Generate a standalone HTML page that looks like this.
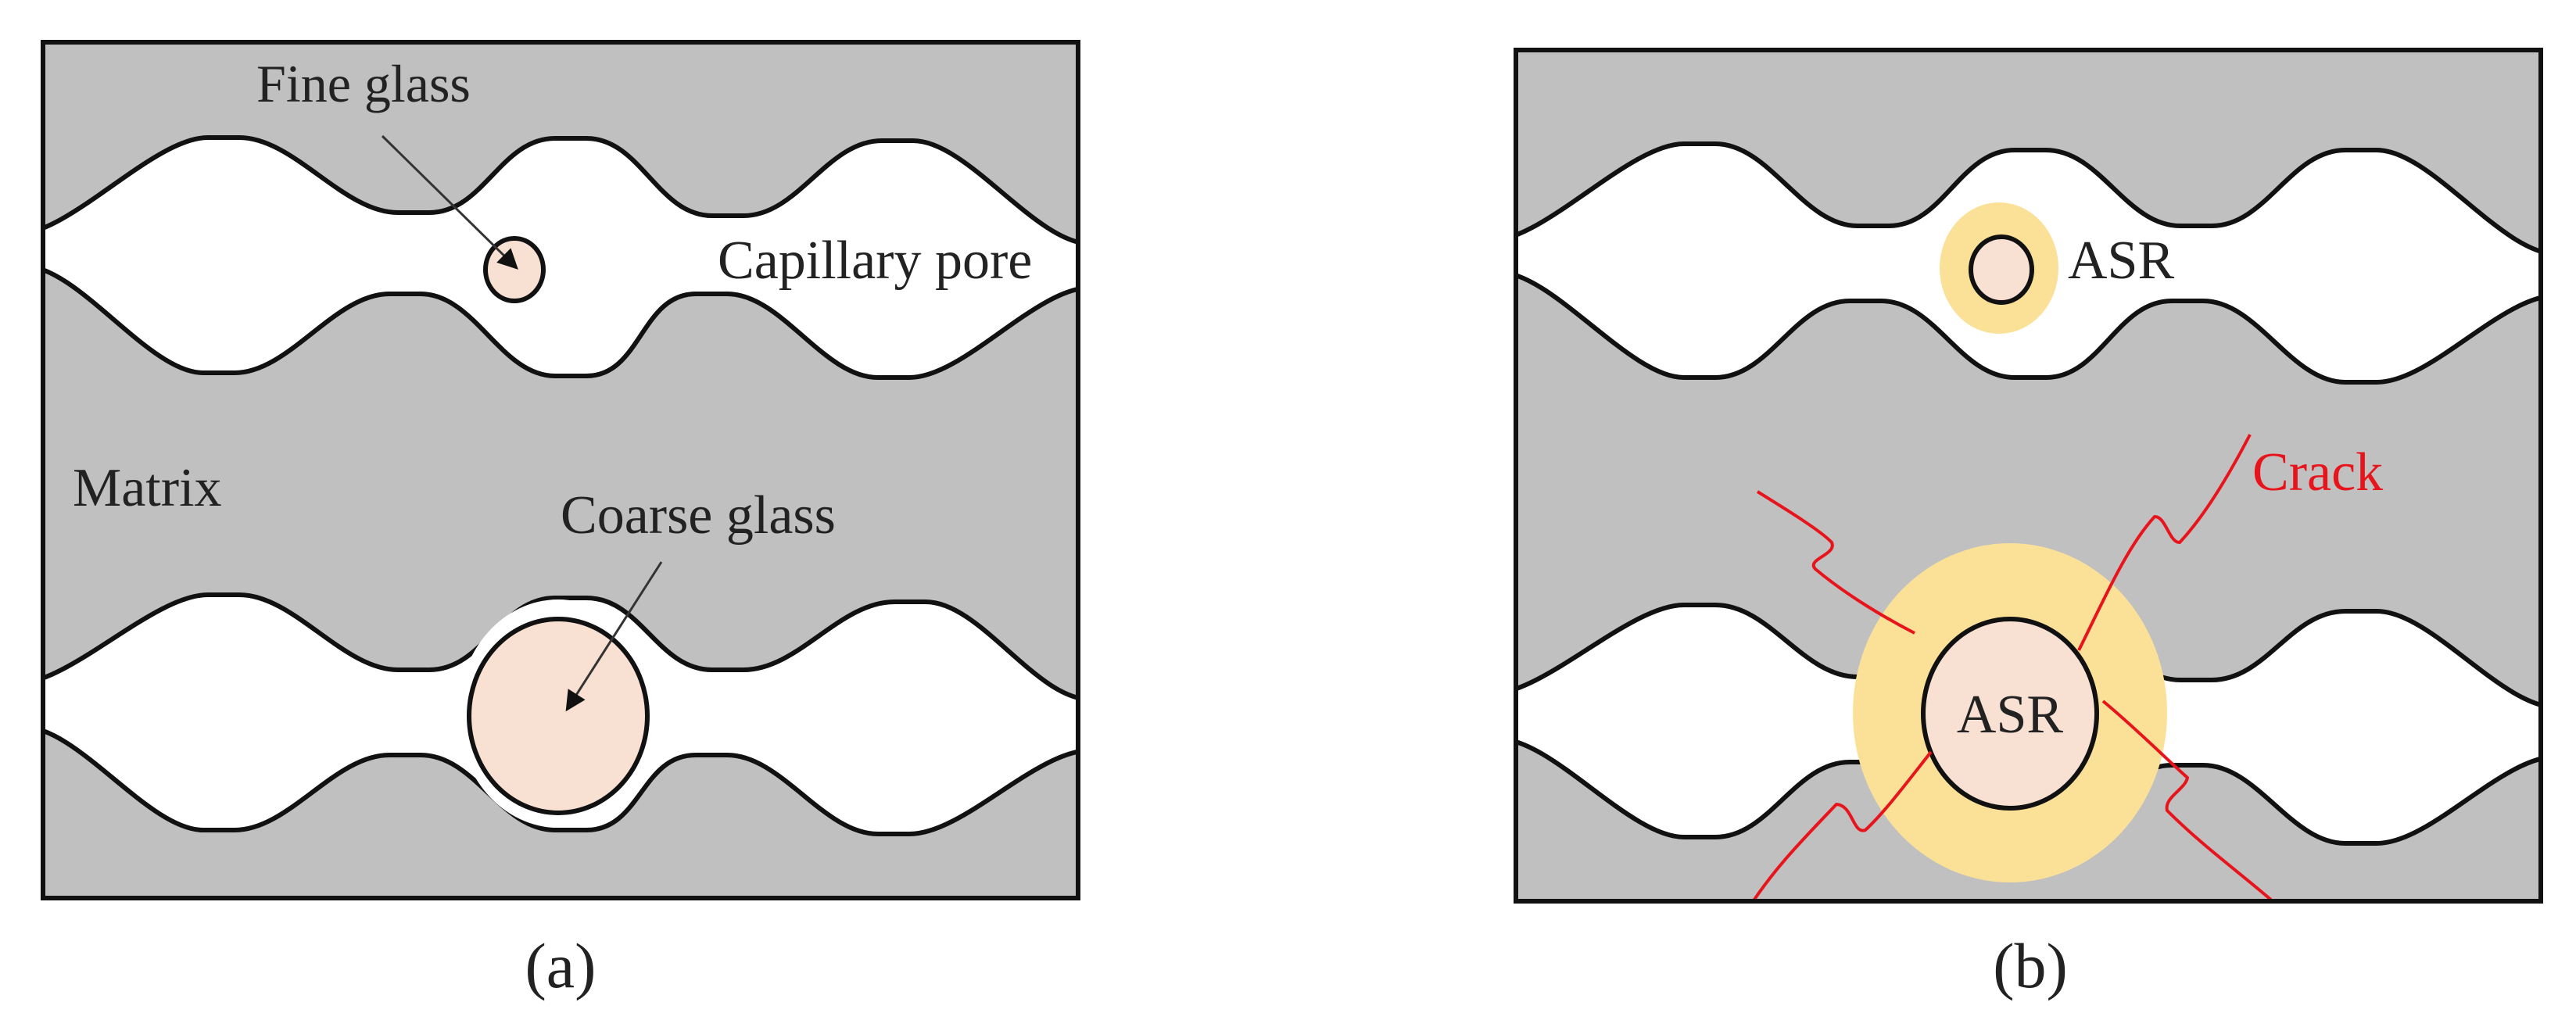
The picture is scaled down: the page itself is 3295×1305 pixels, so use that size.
<!DOCTYPE html>
<html><head><meta charset="utf-8"><style>
html,body{margin:0;padding:0;background:#fff;}
svg{display:block;}
text{font-family:"Liberation Serif",serif;fill:#222;}
</style></head><body>
<svg width="3295" height="1305" viewBox="0 0 3295 1305" xmlns="http://www.w3.org/2000/svg">
<defs>
<clipPath id="ca"><rect x="55" y="54" width="1324" height="1095"/></clipPath>
<clipPath id="cb"><rect x="1939" y="64" width="1311" height="1089"/></clipPath>
<marker id="ar" viewBox="0 0 10 10" refX="9" refY="5" markerWidth="30" markerHeight="26" orient="auto" markerUnits="userSpaceOnUse">
<path d="M0 0 L10 5 L0 10 Z" fill="#111"/></marker>
</defs>
<!-- Panel a -->
<rect x="55" y="54" width="1324" height="1095" fill="#c0c0c0"/>
<g clip-path="url(#ca)" fill="#fff" stroke="#111" stroke-width="6">
<path d="M20 300 C90 300 196 176 266 176 L306 176 C376 176 439 272 509 272 L549 272 C619 272 640 177 710 177 L750 177 C820 177 841 276 911 276 L951 276 C1021 276 1058 180 1128 180 L1168 180 C1238 180 1325 312 1395 312 L1395 368 C1325 368 1233 483 1163 483 L1123 483 C1053 483 1000 376 930 376 L890 376 C820 376 820 481 750 481 L710 481 C640 481 608 376 538 376 L498 376 C428 376 370 477 300 477 L260 477 C190 477 100 340 30 340 Z"/>
<path d="M20 875 C90 875 196 761 266 761 L306 761 C376 761 439 857 509 857 L549 857 C619 857 640 765 710 765 L750 765 C820 765 841 857 911 857 L951 857 C1021 857 1074 770 1144 770 L1184 770 C1254 770 1325 895 1395 895 L1395 960 C1325 960 1233 1067 1163 1067 L1123 1067 C1053 1067 1000 966 930 966 L890 966 C820 966 820 1062 750 1062 L710 1062 C640 1062 608 966 538 966 L498 966 C428 966 370 1062 300 1062 L260 1062 C190 1062 100 930 30 930 Z"/>
</g>
<ellipse cx="714" cy="913" rx="128" ry="146" fill="#fff"/>
<ellipse cx="714" cy="916" rx="114" ry="124" fill="#f8e0d2" stroke="#111" stroke-width="6"/>
<ellipse cx="658" cy="345" rx="37" ry="40" fill="#f8e0d2" stroke="#111" stroke-width="6"/>
<line x1="489" y1="174" x2="661" y2="343" stroke="#333" stroke-width="3" marker-end="url(#ar)"/>
<line x1="846" y1="719" x2="725" y2="908" stroke="#333" stroke-width="3" marker-end="url(#ar)"/>
<rect x="55" y="54" width="1324" height="1095" fill="none" stroke="#111" stroke-width="6"/>
<text x="328" y="130" font-size="68">Fine glass</text>
<text x="918" y="356" font-size="70">Capillary pore</text>
<text x="93" y="647" font-size="70">Matrix</text>
<text x="717" y="682" font-size="70">Coarse glass</text>
<text x="717" y="1263" font-size="82" text-anchor="middle">(a)</text>
<!-- Panel b -->
<rect x="1939" y="64" width="1311" height="1089" fill="#c0c0c0"/>
<g clip-path="url(#cb)" fill="#fff" stroke="#111" stroke-width="6">
<path d="M1906 308 C1976 308 2084 184 2154 184 L2194 184 C2264 184 2306 289 2376 289 L2416 289 C2486 289 2507 192 2577 192 L2617 192 C2687 192 2719 289 2789 289 L2829 289 C2899 289 2930 192 3000 192 L3040 192 C3110 192 3200 325 3270 325 L3270 378 C3200 378 3110 489 3040 489 L3000 489 C2930 489 2888 385 2818 385 L2778 385 C2708 385 2687 483 2617 483 L2577 483 C2507 483 2476 385 2406 385 L2366 385 C2296 385 2264 483 2194 483 L2154 483 C2084 483 1986 348 1916 348 Z"/>
<path d="M1906 888 C1976 888 2084 774 2154 774 L2194 774 C2264 774 2306 866 2376 866 L2416 866 C2486 866 2507 778 2577 778 L2617 778 C2687 778 2719 870 2789 870 L2829 870 C2899 870 2930 782 3000 782 L3040 782 C3110 782 3200 905 3270 905 L3270 968 C3200 968 3110 1079 3040 1079 L3000 1079 C2930 1079 2888 979 2818 979 L2778 979 C2708 979 2687 1075 2617 1075 L2577 1075 C2507 1075 2476 975 2406 975 L2366 975 C2296 975 2264 1071 2194 1071 L2154 1071 C2084 1071 1986 945 1916 945 Z"/>
</g>
<ellipse cx="2557" cy="343" rx="76" ry="84" fill="#fbe197"/>
<ellipse cx="2560" cy="345" rx="39" ry="42" fill="#f8e0d2" stroke="#111" stroke-width="6"/>
<g clip-path="url(#cb)">
<ellipse cx="2571" cy="912" rx="201" ry="217" fill="#fbe197"/>
<ellipse cx="2571" cy="913" rx="111" ry="121" fill="#f8e0d2" stroke="#111" stroke-width="6"/>
<g fill="none" stroke="#e8141c" stroke-width="4" stroke-linejoin="round">
<path d="M2248 629 C2290 655 2330 680 2343 694 C2350 710 2310 715 2322 728 C2360 760 2410 790 2449 810"/>
<path d="M2659 832 C2690 770 2720 700 2756 661 C2770 660 2775 695 2788 694 C2820 660 2850 610 2878 556"/>
<path d="M2690 897 C2730 930 2770 970 2798 995 C2795 1010 2768 1020 2772 1037 C2820 1085 2870 1120 2915 1160"/>
<path d="M2470 962 C2440 1000 2410 1040 2386 1062 C2370 1068 2370 1030 2349 1029 C2310 1070 2270 1110 2238 1160"/>
</g>
</g>
<rect x="1939" y="64" width="1311" height="1089" fill="none" stroke="#111" stroke-width="6"/>
<text x="2645" y="356" font-size="70" fill="#111">ASR</text>
<text x="2571" y="937" font-size="70" text-anchor="middle">ASR</text>
<text x="2881" y="627" font-size="70" style="fill:#e8141c">Crack</text>
<text x="2597" y="1263" font-size="82" text-anchor="middle">(b)</text>
</svg>
</body></html>
